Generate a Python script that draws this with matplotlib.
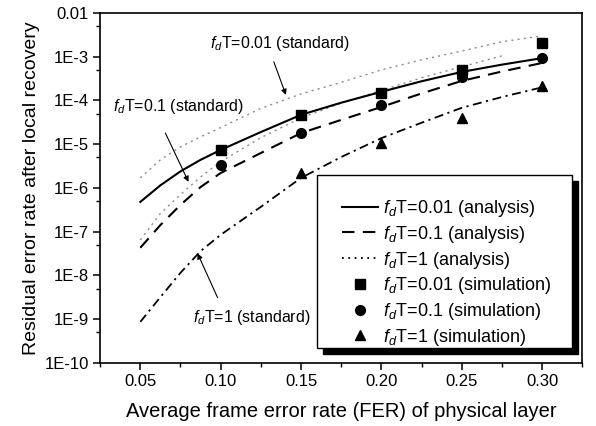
import numpy as np
import matplotlib
matplotlib.use('Agg')
import matplotlib.pyplot as plt
from matplotlib.ticker import FixedLocator, FuncFormatter, MultipleLocator
from matplotlib.patches import Rectangle

plt.rcParams['font.family'] = ['Liberation Sans', 'DejaVu Sans']
plt.rcParams['mathtext.fontset'] = 'custom'
plt.rcParams['mathtext.rm'] = 'Liberation Sans'
plt.rcParams['mathtext.it'] = 'Liberation Sans:italic'
plt.rcParams['mathtext.bf'] = 'Liberation Sans:bold'

# Analysis / standard curves
fer_curve = [0.05, 0.0625, 0.075, 0.0875, 0.10, 0.125, 0.15, 0.175, 0.20, 0.225, 0.25, 0.275, 0.30]
ana_001 = [4.8e-7, 1.15e-6, 2.4e-6, 4.4e-6, 7.4e-6, 1.9e-5, 4.7e-5, 8.9e-5, 1.58e-4, 2.75e-4, 4.5e-4, 6.6e-4, 9.3e-4]
ana_01 = [4.3e-8, 1.42e-7, 4.1e-7, 1.05e-6, 2.2e-6, 6.3e-6, 1.8e-5, 3.6e-5, 7.1e-5, 1.45e-4, 2.8e-4, 4.6e-4, 7.2e-4]
ana_1 = [8.7e-10, 3.2e-9, 1.15e-8, 3.6e-8, 8.5e-8, 3.7e-7, 1.7e-6, 5.1e-6, 1.38e-5, 3.1e-5, 6.8e-5, 1.2e-4, 2.0e-4]
std_001 = [1.7e-6, 4.4e-6, 8.7e-6, 1.48e-5, 2.4e-5, 6.6e-5, 1.41e-4, 2.6e-4, 5.0e-4, 8.5e-4, 1.35e-3, 2.2e-3, 3.0e-3]
fer_std01 = [0.05, 0.0625, 0.075, 0.0875, 0.10, 0.125, 0.15, 0.175, 0.20, 0.225, 0.25, 0.275]
std_01 = [6.5e-8, 2.6e-7, 7.1e-7, 1.78e-6, 4.0e-6, 1.41e-5, 4.0e-5, 8.7e-5, 1.7e-4, 3.3e-4, 5.9e-4, 1.05e-3]

# Simulation points
fer_sim = [0.10, 0.15, 0.20, 0.25, 0.30]
sim_001 = [7.4e-6, 4.7e-5, 1.5e-4, 5.0e-4, 2.05e-3]
sim_01 = [3.4e-6, 1.8e-5, 7.9e-5, 3.5e-4, 9.3e-4]
fer_sim1 = [0.15, 0.20, 0.25, 0.30]
sim_1 = [2.2e-6, 1.07e-5, 4.0e-5, 2.2e-4]

fig = plt.figure(figsize=(5.96, 4.26), dpi=100)
ax = fig.add_axes([0.168, 0.148, 0.809, 0.8215])

gray = '0.55'
ax.plot(fer_curve, std_001, color=gray, lw=1.0, ls=(0, (1.5, 3)))
ax.plot(fer_std01, std_01, color=gray, lw=1.0, ls=(0, (1.5, 3)))

l1, = ax.plot(fer_curve, ana_001, color='k', lw=1.5, ls='-')
l2, = ax.plot(fer_curve, ana_01, color='k', lw=1.5, ls=(0, (6, 4)))
ax.plot(fer_curve, ana_1, color='k', lw=1.3, ls=(0, (5, 2.5, 1.2, 2.5)))
l3, = ax.plot([], [], color='k', lw=1.3, ls=(0, (1, 2.5)))

m1, = ax.plot(fer_sim, sim_001, ls='none', marker='s', ms=6.5, color='k')
m2, = ax.plot(fer_sim, sim_01, ls='none', marker='o', ms=7, color='k')
m3, = ax.plot(fer_sim1, sim_1, ls='none', marker='^', ms=7.5, color='k')

ax.set_yscale('log')
ax.set_xlim(0.025, 0.325)
ax.set_ylim(1e-10, 1e-2)
ax.xaxis.set_major_locator(MultipleLocator(0.05))
ax.xaxis.set_minor_locator(MultipleLocator(0.025))
ax.xaxis.set_major_formatter(FuncFormatter(lambda v, p: '%.2f' % v))
ax.yaxis.set_major_locator(FixedLocator([10.0 ** k for k in range(-10, -1)]))
ax.yaxis.set_minor_locator(FixedLocator([5 * 10.0 ** k for k in range(-10, -2)]))
ax.yaxis.set_major_formatter(FuncFormatter(
    lambda v, p: '0.01' if abs(np.log10(v) + 2) < 0.01 else '1E-%d' % round(-np.log10(v))))
ax.yaxis.set_minor_formatter(FuncFormatter(lambda v, p: ''))
ax.tick_params(which='major', direction='out', length=5, width=1.1, labelsize=12, pad=3)
ax.tick_params(which='minor', direction='out', length=3, width=1.0)
for s in ax.spines.values():
    s.set_linewidth(1.2)

ax.set_xlabel('Average frame error rate (FER) of physical layer', fontsize=14.5, labelpad=9)
ax.set_ylabel('Residual error rate after local recovery', fontsize=14, labelpad=3)

arrow = dict(arrowstyle='-|>', color='k', lw=0.8, mutation_scale=8, shrinkA=0, shrinkB=0)
ax.annotate('', xy=(0.1406, 1.34e-4), xytext=(0.1331, 7.6e-4), arrowprops=arrow)
ax.text(0.137, 2.06e-3, r'$f_d$T=0.01 (standard)', fontsize=11.5, ha='center', va='center')
ax.annotate('', xy=(0.080, 1.38e-6), xytext=(0.0656, 1.8e-5), arrowprops=arrow)
ax.text(0.0735, 7.1e-5, r'$f_d$T=0.1 (standard)', fontsize=11.5, ha='center', va='center')
ax.annotate('', xy=(0.0856, 3.2e-8), xytext=(0.0981, 3.1e-9), arrowprops=arrow)
ax.text(0.1195, 1.07e-9, r'$f_d$T=1 (standard)', fontsize=11.5, ha='center', va='center')

# legend box with heavy black shadow
ax.add_patch(Rectangle((0.450 + 0.013, 0.043 - 0.018), 0.529, 0.494, transform=ax.transAxes,
                       facecolor='k', edgecolor='k', zorder=4))
ax.add_patch(Rectangle((0.450, 0.043), 0.529, 0.494, transform=ax.transAxes,
                       facecolor='white', edgecolor='k', lw=1.0, zorder=4.5))
labels = [r'$f_d$T=0.01 (analysis)', r'$f_d$T=0.1 (analysis)', r'$f_d$T=1 (analysis)',
          r'$f_d$T=0.01 (simulation)', r'$f_d$T=0.1 (simulation)', r'$f_d$T=1 (simulation)']
leg = ax.legend([l1, l2, l3, m1, m2, m3], labels, loc='upper left', bbox_to_anchor=(0.502, 0.471),
                frameon=False, fontsize=13, borderpad=0, borderaxespad=0, handlelength=2.0,
                handletextpad=0.28, labelspacing=0.26)
leg.set_zorder(5)

fig.savefig('out.png', dpi=100)
